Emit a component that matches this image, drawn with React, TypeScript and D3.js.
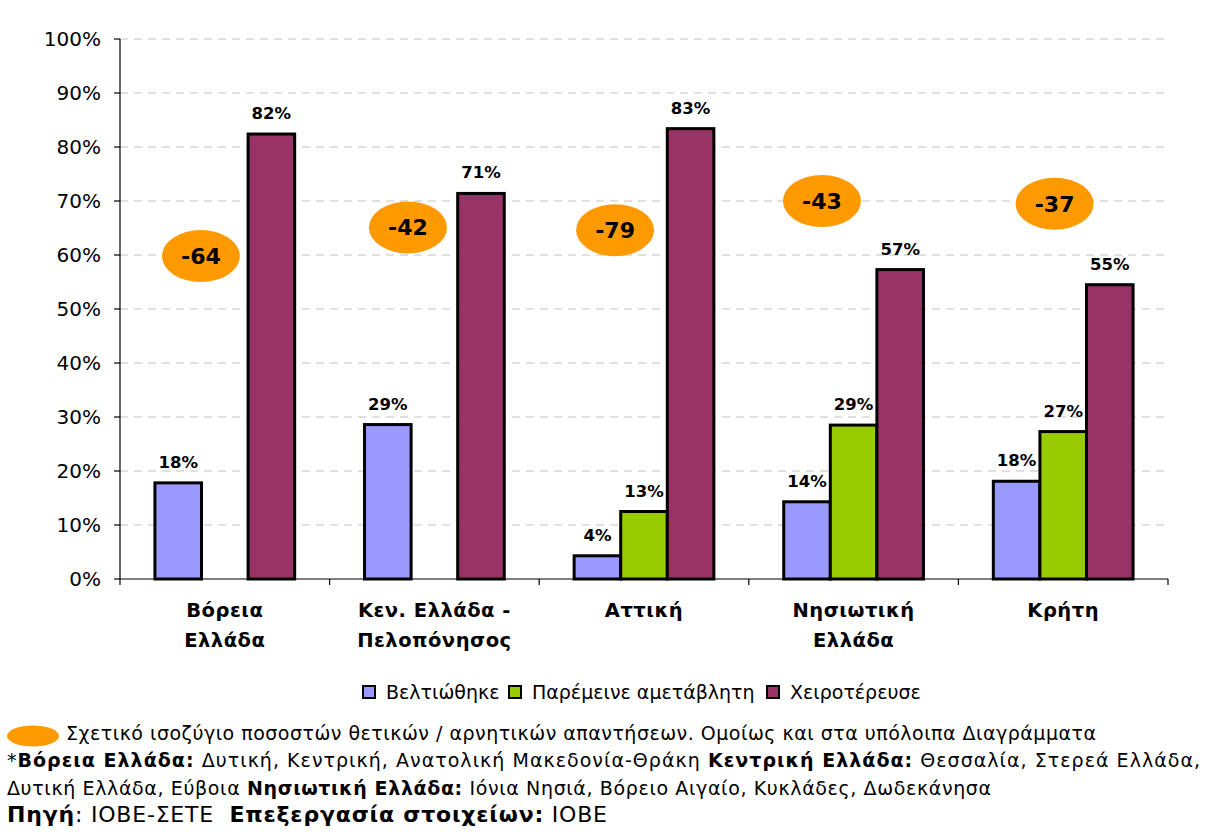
import React from "react";
import * as d3 from "d3";

const categories = ["Βόρεια\nΕλλάδα", "Κεν. Ελλάδα -\nΠελοπόνησος", "Αττική", "Νησιωτική\nΕλλάδα", "Κρήτη"];
const seriesNames = ["Βελτιώθηκε", "Παρέμεινε αμετάβλητη", "Χειροτέρευσε"];
const improved = [17.8, 28.6, 4.3, 14.3, 18.1];
const unchanged: (number | null)[] = [null, null, 12.5, 28.5, 27.3];
const worsened = [82.4, 71.4, 83.4, 57.3, 54.5];
const balance = [-64, -42, -79, -43, -37];
const yTicks = [0, 10, 20, 30, 40, 50, 60, 70, 80, 90, 100];

// annotation placement, in data units (fraction of band, % on y axis)
const BALANCE_POS = [
  { fx: 0.386, y: 59.8 },
  { fx: 0.374, y: 65.1 },
  { fx: 0.362, y: 64.6 },
  { fx: 0.349, y: 70.0 },
  { fx: 0.459, y: 69.5 },
];

const COLORS = ["#9999FF", "#99CC00", "#993366"];
const ORANGE = "#FF9900";
const FONT = "'DejaVu Sans', Verdana, sans-serif";

export default function App() {
  const W = 1218, H = 835;
  const left = 120, right = 1168, top = 39, bottom = 579;
  const x0 = d3.scaleBand<string>().domain(categories).range([left, right]).paddingInner(0).paddingOuter(0);
  const x1 = d3.scaleBand<string>().domain(seriesNames).range([0, x0.bandwidth()]).paddingInner(0).paddingOuter(0.75);
  const y = d3.scaleLinear().domain([0, 100]).range([bottom, top]);
  const data = [improved, unchanged, worsened];

  const legendX = [362, 508, 766];

  return (
    <svg width={W} height={H} style={{ position: "absolute", left: 0, top: 0, background: "#fff" }} fontFamily={FONT}>
      <rect x={0} y={0} width={W} height={H} fill="#fff" />
      {/* gridlines */}
      {yTicks.filter((t) => t > 0).map((t) => (
        <line key={"g" + t} x1={left} x2={right} y1={y(t)} y2={y(t)} stroke="#c0c0c0" strokeWidth={1} strokeDasharray="8,6" />
      ))}
      {/* y axis */}
      <line x1={left} x2={left} y1={top} y2={bottom} stroke="#000" strokeWidth={1.2} />
      {yTicks.map((t) => (
        <g key={"t" + t}>
          <line x1={left - 6} x2={left} y1={y(t)} y2={y(t)} stroke="#000" strokeWidth={1.2} />
          <text x={101} y={y(t)} dy="0.36em" textAnchor="end" fontSize={20} fill="#000">{t}%</text>
        </g>
      ))}
      {/* x axis */}
      <line x1={left} x2={right} y1={bottom} y2={bottom} stroke="#000" strokeWidth={1.2} />
      {categories.map((c, i) => (
        <line key={"xt" + i} x1={x0(c)!} x2={x0(c)!} y1={bottom} y2={bottom + 6} stroke="#000" strokeWidth={1.2} />
      ))}
      <line x1={right} x2={right} y1={bottom} y2={bottom + 6} stroke="#000" strokeWidth={1.2} />
      {/* bars */}
      {categories.map((c, i) => (
        <g key={"b" + i} transform={`translate(${x0(c)},0)`}>
          {seriesNames.map((s, k) => {
            const v = data[k][i];
            if (v == null) return null;
            const bx = x1(s)!;
            return (
              <g key={s}>
                <rect x={bx} y={y(v)} width={x1.bandwidth()} height={y(0) - y(v)} fill={COLORS[k]} stroke="#000" strokeWidth={3} />
                <text x={bx + x1.bandwidth() / 2} y={y(v) - 15} textAnchor="middle" fontSize={16.5} fontWeight="bold" fill="#000">
                  {Math.round(v)}%
                </text>
              </g>
            );
          })}
        </g>
      ))}
      {/* balance ellipses */}
      {categories.map((c, i) => {
        const cx = x0(c)! + BALANCE_POS[i].fx * x0.bandwidth();
        const cy = y(BALANCE_POS[i].y);
        return (
          <g key={"e" + i}>
            <ellipse cx={cx} cy={cy} rx={39} ry={26} fill={ORANGE} />
            <text x={cx} y={cy} dy="0.36em" textAnchor="middle" fontSize={22} fontWeight="bold" fill="#000">{balance[i]}</text>
          </g>
        );
      })}
      {/* category labels */}
      {categories.map((c, i) => (
        <text key={"c" + i} x={x0(c)! + x0.bandwidth() / 2} y={617} textAnchor="middle" fontSize={19.5} fontWeight="bold" fill="#000" letterSpacing={0.5}>
          {c.split("\n").map((ln, j) => (
            <tspan key={j} x={x0(c)! + x0.bandwidth() / 2} y={617 + j * 30}>{ln}</tspan>
          ))}
        </text>
      ))}
      {/* legend */}
      {seriesNames.map((s, k) => (
        <g key={"l" + k}>
          <rect x={legendX[k] + 1} y={686} width={12} height={12} fill={COLORS[k]} stroke="#000" strokeWidth={2} />
          <text x={legendX[k] + 24} y={699} fontSize={19} fill="#000">{s}</text>
        </g>
      ))}
      {/* footnotes */}
      <ellipse cx={33} cy={736} rx={26} ry={10.5} fill={ORANGE} />
      <text x={66} y={740} fontSize={19} fill="#000" textLength={1030} lengthAdjust="spacing">
        Σχετικό ισοζύγιο ποσοστών θετικών / αρνητικών απαντήσεων. Ομοίως και στα υπόλοιπα Διαγράμματα
      </text>
      <text x={7} y={767} fontSize={19} fill="#000" textLength={1193} lengthAdjust="spacing" style={{ whiteSpace: "pre" }}>
        <tspan>*</tspan>
        <tspan fontWeight="bold">Βόρεια Ελλάδα:</tspan>
        <tspan> Δυτική, Κεντρική, Ανατολική Μακεδονία-Θράκη </tspan>
        <tspan fontWeight="bold">Κεντρική Ελλάδα:</tspan>
        <tspan> Θεσσαλία, Στερεά Ελλάδα,</tspan>
      </text>
      <text x={7} y={795} fontSize={19} fill="#000" textLength={984} lengthAdjust="spacing" style={{ whiteSpace: "pre" }}>
        <tspan>Δυτική Ελλάδα, Εύβοια </tspan>
        <tspan fontWeight="bold">Νησιωτική Ελλάδα:</tspan>
        <tspan> Ιόνια Νησιά, Βόρειο Αιγαίο, Κυκλάδες, Δωδεκάνησα</tspan>
      </text>
      <text x={7} y={822} fontSize={22} fill="#000" textLength={600} lengthAdjust="spacing" style={{ whiteSpace: "pre" }}>
        <tspan fontWeight="bold">Πηγή</tspan>
        <tspan>: ΙΟΒΕ-ΣΕΤΕ  </tspan>
        <tspan fontWeight="bold">Επεξεργασία στοιχείων:</tspan>
        <tspan> ΙΟΒΕ</tspan>
      </text>
    </svg>
  );
}
